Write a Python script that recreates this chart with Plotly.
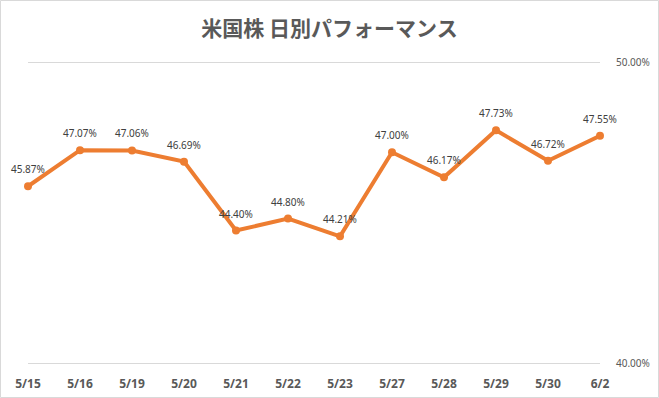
import plotly.graph_objects as go

dates = ["5/15", "5/16", "5/19", "5/20", "5/21", "5/22", "5/23", "5/27", "5/28", "5/29", "5/30", "6/2"]
values = [45.87, 47.07, 47.06, 46.69, 44.40, 44.80, 44.21, 47.00, 46.17, 47.73, 46.72, 47.55]
y_ticks = [40, 50]
y_tick_labels = ["40.00%", "50.00%"]

W, H = 659, 398
ml, mr, mt, mb = 28, 59, 59, 32
pw, ph = W - ml - mr, H - mt - mb
pad = 3 / 30.1

idx = list(range(len(dates)))
fig = go.Figure()
fig.add_trace(go.Scatter(
    x=idx, y=values, mode="lines+markers",
    line=dict(color="#ED7D31", width=4),
    marker=dict(color="#ED7D31", size=8),
    cliponaxis=False,
    hoverinfo="skip",
))

for i, v in zip(idx, values):
    fig.add_annotation(x=i, y=v, text=f"{v:.2f}%", showarrow=False, yshift=17,
                       font=dict(family="Noto Sans", size=10, color="#404040"))

fig.update_layout(
    width=W, height=H,
    margin=dict(l=ml, r=mr, t=mt, b=mb),
    paper_bgcolor="white", plot_bgcolor="white",
    showlegend=False,
    title=dict(text="<b>米国株 日別パフォーマンス</b>", x=0.5, xanchor="center",
               y=1 - 29 / H, yanchor="middle",
               font=dict(family="Noto Sans CJK JP", size=21, color="#595959")),
    xaxis=dict(range=[0, len(dates) - 1], tickvals=idx, ticktext=[f"<b>{d}</b>" for d in dates],
               showgrid=False, zeroline=False, showline=False, ticks="",
               ticklabelstandoff=9, automargin=False,
               tickfont=dict(family="Noto Sans", size=12, color="#595959")),
    yaxis=dict(range=[40 - pad, 50 + pad], side="right", tickvals=y_ticks, ticktext=y_tick_labels,
               showgrid=True, gridcolor="#d9d9d9", gridwidth=1, zeroline=False, showline=False,
               ticks="", ticklabelstandoff=15, automargin=False,
               tickfont=dict(family="Noto Sans", size=10, color="#595959")),
)

fig.add_shape(type="rect", xref="paper", yref="paper",
              x0=(0.5 - ml) / pw, x1=(W - 0.5 - ml) / pw,
              y0=(0.5 - mb) / ph, y1=(H - 0.5 - mb) / ph,
              line=dict(color="#d9d9d9", width=1), fillcolor="rgba(0,0,0,0)", layer="above")

fig.write_html(
    "out.html", config={"displayModeBar": False},
    post_script=("document.documentElement.style.margin='0';"
                 "document.documentElement.style.padding='0';"
                 "document.documentElement.style.overflow='hidden';"
                 "document.body.style.margin='0';"
                 "document.body.style.padding='0';"
                 "document.body.style.overflow='hidden';"),
)
